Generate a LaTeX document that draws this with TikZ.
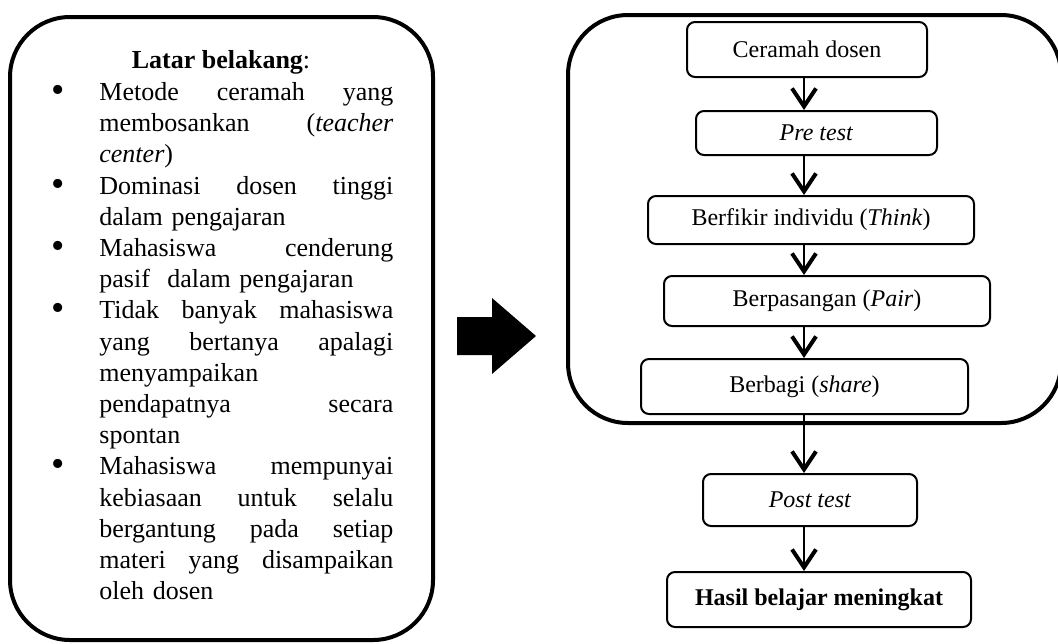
\documentclass[tikz,border=0pt]{standalone}
\usepackage{fontspec}
\setmainfont{Liberation Serif}
\usetikzlibrary{arrows.meta}
\setlength{\parindent}{0pt}
\newcommand{\bul}{\leavevmode\llap{\raisebox{-1pt}{\fontsize{19}{15.6}\selectfont\textbullet}\hspace{17.5pt}}}

\begin{document}
\begin{tikzpicture}[x=0.5pt, y=-0.5pt, >={Straight Barb[length=9pt,width=12pt,line width=2pt]},
  frame/.style={draw, line width=2pt, rounded corners=30pt, inner sep=0pt},
  stepbox/.style={draw, line width=1pt, rounded corners=4pt, inner sep=0pt, font=\fontsize{12}{14}\selectfont}]
\useasboundingbox (0,0) rectangle (1058,643);
\clip (0,0) rectangle (1058,643);
% two big frames
\node[frame, minimum width=211.5pt, minimum height=311.5pt] (latar) at (221.5,328.5) {};
\node[frame, minimum width=246.5pt, minimum height=204pt] (tps) at (814.5,219) {};
% left: background list
\node[anchor=base, inner sep=0pt, font=\fontsize{13}{15.6}\selectfont] (judul) at (221,68) {\textbf{Latar belakang}:};
\node[anchor=north west, inner sep=0pt, text width=147pt, align=left, font=\fontsize{13}{15.6}\selectfont] (daftar) at (99,78.2) {\strut\bul Metode\hfill ceramah\hfill yang\\
membosankan\hfill (\textit{teacher}\\
\textit{center})\\
\bul Dominasi\hfill dosen\hfill tinggi\\
dalam pengajaran\\
\bul Mahasiswa\hfill cenderung\\
pasif\ \ dalam pengajaran\\
\bul Tidak\hfill banyak\hfill mahasiswa\\
yang\hfill bertanya\hfill apalagi\\
menyampaikan\\
pendapatnya\hfill secara\\
spontan\\
\bul Mahasiswa\hfill mempunyai\\
kebiasaan\hfill untuk\hfill selalu\\
bergantung\hfill pada\hfill setiap\\
materi\hfill yang\hfill disampaikan\\
oleh dosen};
% block arrow
\fill (457,317) -- (492,317) -- (492,298) -- (536,336) -- (492,374) -- (492,355) -- (457,355) -- cycle;
% right: steps
\coordinate (spine) at (804,0);
\node[stepbox, minimum width=120pt, minimum height=27.5pt] (ceramah) at (807,49.5) {Ceramah dosen};
\node[stepbox, minimum width=120.5pt, minimum height=22pt] (pre) at (816.5,133) {\textit{Pre test}};
\node[stepbox, minimum width=163pt, minimum height=24pt] (think) at (811,220) {Berfikir individu (\textit{Think})};
\node[stepbox, minimum width=163pt, minimum height=25pt] (pair) at (827,301) {Berpasangan (\textit{Pair})};
\node[stepbox, minimum width=163.5pt, minimum height=27.5pt] (share) at (804.5,386.5) {Berbagi (\textit{share})};
\node[stepbox, minimum width=107pt, minimum height=26pt] (post) at (810,500) {\textit{Post test}};
\node[stepbox, minimum width=152pt, minimum height=27.5pt] (hasil) at (819,599.5) {\textbf{Hasil belajar meningkat}};
\draw[->, line width=1.3pt] (ceramah.south -| spine) -- (pre.north -| spine);
\draw[->, line width=1.3pt] (pre.south -| spine) -- (think.north -| spine);
\draw[->, line width=1.3pt] (think.south -| spine) -- (pair.north -| spine);
\draw[->, line width=1.3pt] (pair.south -| spine) -- (share.north -| spine);
\draw[->, line width=1.3pt] (share.south -| spine) -- (post.north -| spine);
\draw[->, line width=1.3pt] (post.south -| spine) -- (hasil.north -| spine);
\end{tikzpicture}
\end{document}
